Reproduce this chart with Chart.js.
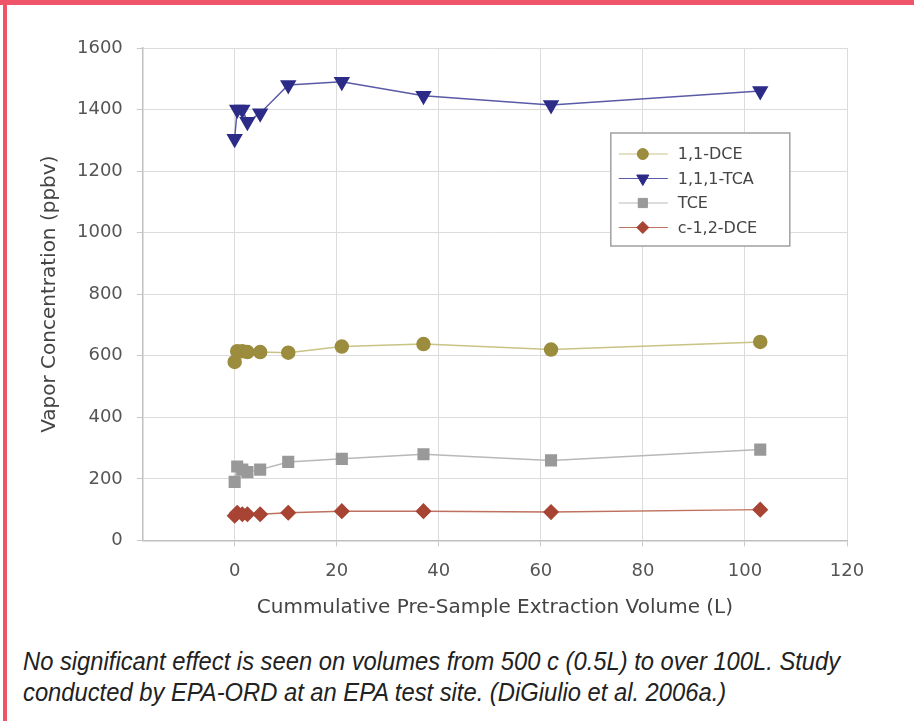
<!DOCTYPE html>
<html>
<head>
<meta charset="utf-8">
<script src="https://cdn.jsdelivr.net/npm/chart.js@4/dist/chart.umd.min.js"></script>
<style>
  html, body { margin: 0; padding: 0; background: #fff; }
  body { width: 914px; height: 721px; position: relative; overflow: hidden; }
  .top-bar { position: absolute; left: 0; top: 0; width: 914px; height: 5px; background: #ef5568; }
  .left-bar { position: absolute; left: 3px; top: 0; width: 4px; height: 721px; background: #ef5568; }
  .chart-box { position: absolute; left: 8px; top: 5px; width: 906px; height: 625px; }
  .caption {
    position: absolute; left: 23px; top: 646px; width: 920px;
    font-family: "Liberation Sans", Arial, sans-serif;
    font-style: italic; font-size: 25px; line-height: 31px; color: #222;
    transform: scaleX(0.95); transform-origin: left top;
  }
</style>
</head>
<body>
<div class="top-bar"></div>
<div class="left-bar"></div>
<div class="chart-box"><canvas id="myChart"></canvas></div>
<div class="caption">No significant effect is seen on volumes from 500 c (0.5L) to over 100L. Study<br>conducted by EPA-ORD at an EPA test site. (DiGiulio et al. 2006a.)</div>

<script>
// extraction volume (L)
const volumes = [0, 0.5, 1.5, 2.5, 5, 10.5, 21, 37, 62, 103];

// vapor concentrations (ppbv)
const dce11 = [580, 615, 615, 612, 612, 610, 630, 638, 620, 645];
const tca111 = [1305, 1400, 1400, 1360, 1388, 1480, 1490, 1445, 1415, 1460];
const tce = [190, 240, 230, 222, 230, 255, 265, 280, 260, 295];
const dce12c = [80, 90, 85, 85, 85, 90, 95, 95, 92, 100];

const xTicks = [0, 20, 40, 60, 80, 100, 120];
const yTicks = [0, 200, 400, 600, 800, 1000, 1200, 1400, 1600];

const toPoints = (vals) => vals.map((v, i) => ({ x: volumes[i], y: v }));

const fontFamily = '"DejaVu Sans", sans-serif';

// legend drawn inside the plot area, like the original
const insideLegend = {
  id: 'insideLegend',
  afterDraw(chart) {
    const ctx = chart.ctx;
    const area = chart.chartArea;
    const left = area.left + 468;
    const top = area.top + 85;
    const w = 179, h = 113;
    ctx.save();
    ctx.fillStyle = '#fff';
    ctx.fillRect(left, top, w, h);
    ctx.strokeStyle = '#a0a0a0';
    ctx.lineWidth = 1.5;
    ctx.strokeRect(left, top, w, h);
    ctx.font = '16px ' + fontFamily;
    ctx.textBaseline = 'middle';
    chart.data.datasets.forEach((ds, i) => {
      const y = top + 21 + i * 24.5;
      ctx.strokeStyle = ds.borderColor;
      ctx.lineWidth = 1;
      ctx.beginPath();
      ctx.moveTo(left + 8, y);
      ctx.lineTo(left + 57, y);
      ctx.stroke();
      ctx.fillStyle = ds.pointBackgroundColor;
      ctx.strokeStyle = ds.pointBorderColor;
      Chart.helpers.drawPoint(ctx, {
        pointStyle: ds.pointStyle,
        rotation: ds.pointRotation || 0,
        radius: ds.pointRadius - 1,
        borderWidth: 1
      }, left + 32, y);
      ctx.fillStyle = '#444';
      ctx.fillText(ds.label, left + 67, y + 1);
    });
    ctx.restore();
  }
};

const config = {
  type: 'line',
  data: {
    datasets: [
      {
        label: '1,1-DCE',
        data: toPoints(dce11),
        borderColor: '#c9c386',
        borderWidth: 1.5,
        pointStyle: 'circle',
        pointRadius: 6.5,
        pointBackgroundColor: '#9c8c3e',
        pointBorderColor: '#9c8c3e'
      },
      {
        label: '1,1,1-TCA',
        data: toPoints(tca111),
        borderColor: '#5a5aa8',
        borderWidth: 1.5,
        pointStyle: 'triangle',
        pointRotation: 180,
        pointRadius: 8,
        pointBackgroundColor: '#2c2c88',
        pointBorderColor: '#2c2c88'
      },
      {
        label: 'TCE',
        data: toPoints(tce),
        borderColor: '#b8b8b8',
        borderWidth: 1.5,
        pointStyle: 'rect',
        pointRadius: 7.5,
        pointBackgroundColor: '#999999',
        pointBorderColor: '#999999'
      },
      {
        label: 'c-1,2-DCE',
        data: toPoints(dce12c),
        borderColor: '#c0705e',
        borderWidth: 1.5,
        pointStyle: 'rectRot',
        pointRadius: 7,
        pointBackgroundColor: '#a84434',
        pointBorderColor: '#a84434'
      }
    ]
  },
  options: {
    responsive: false,
    animation: false,
    layout: { padding: { top: 43, right: 67, left: 30, bottom: 6 } },
    plugins: {
      legend: { display: false },
      tooltip: { enabled: false }
    },
    elements: { line: { tension: 0 } },
    scales: {
      x: {
        type: 'linear',
        min: -18,
        max: 120,
        afterBuildTicks: (scale) => { scale.ticks = xTicks.map(v => ({ value: v })); },
        grid: { color: '#dcdcdc', tickLength: 6, tickColor: '#c8c8c8' },
        border: { color: '#c0c0c0', width: 1.5 },
        ticks: {
          color: '#555',
          font: { family: fontFamily, size: 18 },
          padding: 14,
          callback: (value) => String(value)
        },
        title: {
          display: true,
          text: 'Cummulative Pre-Sample Extraction Volume (L)',
          color: '#444',
          font: { family: fontFamily, size: 20 },
          padding: { top: 0, bottom: 4 }
        }
      },
      y: {
        min: 0,
        max: 1600,
        afterBuildTicks: (scale) => { scale.ticks = yTicks.map(v => ({ value: v })); },
        grid: { color: '#dcdcdc', tickLength: 6, tickColor: '#c8c8c8' },
        border: { color: '#c0c0c0', width: 1.5 },
        ticks: {
          color: '#555',
          font: { family: fontFamily, size: 18 },
          padding: 14,
          callback: (value) => String(value)
        },
        title: {
          display: true,
          text: 'Vapor Concentration (ppbv)',
          color: '#444',
          font: { family: fontFamily, size: 20 },
          padding: { top: 0, bottom: 1 }
        }
      }
    }
  },
  plugins: [insideLegend]
};

const canvas = document.getElementById('myChart');
canvas.width = 906;
canvas.height = 625;
const myChart = new Chart(canvas, config);
</script>
</body>
</html>
